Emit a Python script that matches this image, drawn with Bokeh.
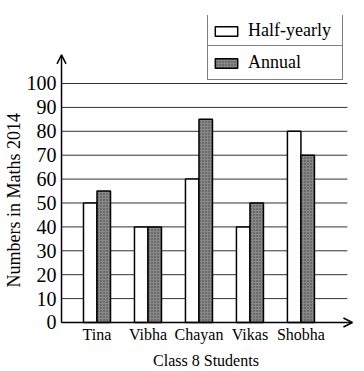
from bokeh.plotting import figure
from bokeh.models import (Range1d, FixedTicker, Legend, LegendItem, Arrow, OpenHead, Title)
from bokeh.embed import file_html
from bokeh.resources import INLINE

students = ["Tina", "Vibha", "Chayan", "Vikas", "Shobha"]
half_yearly = [50, 40, 60, 40, 80]
annual = [55, 40, 85, 50, 70]
y_ticks = [0, 10, 20, 30, 40, 50, 60, 70, 80, 90, 100]
x_title = "Class 8 Students"
y_title = "Numbers in Maths 2014"

FONT = "Liberation Serif"
pos = list(range(1, len(students) + 1))
bw = 0.265
AX = 0.304          # x position of the y axis
X_END = 6.01        # tip of the x-axis arrow
GRID_END = 5.91
Y_ARROW = 112

p = figure(width=364, height=371, output_backend="svg", toolbar_location=None,
           x_range=Range1d(0.186, 6.09), y_range=Range1d(-2.93, 128.45),
           min_border_left=55, min_border_right=8, min_border_top=15, min_border_bottom=42)
p.outline_line_color = None
p.background_fill_color = "white"

# grid lines from the axis to the right
p.segment(x0=[AX] * len(y_ticks), y0=y_ticks, x1=[GRID_END] * len(y_ticks), y1=y_ticks,
          line_color="#333333", line_width=1)

r1 = p.vbar(x=[x - bw / 2 for x in pos], top=half_yearly, width=bw,
            fill_color="white", line_color="black", line_width=1.5)
r2 = p.vbar(x=[x + bw / 2 for x in pos], top=annual, width=bw,
            fill_color="#888888", line_color="black", line_width=1.5,
            hatch_pattern="dot", hatch_color="#404040", hatch_scale=3, hatch_weight=1)

# axes
p.xaxis.ticker = FixedTicker(ticks=pos)
p.xaxis.major_label_overrides = {i: s for i, s in zip(pos, students)}
p.xaxis.axis_line_color = None
p.xaxis.major_tick_line_color = None
p.xaxis.minor_tick_line_color = None
p.xaxis.major_tick_out = 0
p.xaxis.major_tick_in = 0
p.xaxis.minor_tick_out = 0
p.xaxis.major_label_text_font = FONT
p.xaxis.major_label_text_font_size = "16px"
p.xaxis.major_label_text_color = "black"
p.xaxis.major_label_standoff = -4
p.xaxis.axis_label = x_title
p.xaxis.axis_label_text_font = FONT
p.xaxis.axis_label_text_font_size = "16px"
p.xaxis.axis_label_text_font_style = "normal"
p.xaxis.axis_label_text_color = "black"
p.xaxis.axis_label_standoff = 6

p.yaxis.ticker = FixedTicker(ticks=y_ticks)
p.yaxis.axis_line_color = None
p.yaxis.major_tick_line_color = None
p.yaxis.minor_tick_line_color = None
p.yaxis.major_tick_out = 0
p.yaxis.major_tick_in = 0
p.yaxis.minor_tick_out = 0
p.yaxis.major_label_text_font = FONT
p.yaxis.major_label_text_font_size = "20px"
p.yaxis.major_label_text_color = "black"
p.yaxis.major_label_standoff = -1

p.add_layout(Title(text=y_title, align="left", offset=42, standoff=0,
                   text_font=FONT, text_font_size="18px", text_font_style="normal",
                   text_color="black"), "left")

p.xgrid.visible = False
p.ygrid.visible = False

# axis arrows
p.add_layout(Arrow(x_start=AX, y_start=0, x_end=X_END, y_end=0,
                   line_color="black", line_width=1.5,
                   end=OpenHead(size=9, line_color="black", line_width=1.5)))
p.add_layout(Arrow(x_start=AX, y_start=0, x_end=AX, y_end=Y_ARROW,
                   line_color="black", line_width=1.5,
                   end=OpenHead(size=9, line_color="black", line_width=1.5)))

def make_legend(label, renderer, loc):
    lg = Legend(items=[LegendItem(label=label, renderers=[renderer])], location=loc,
                orientation="vertical", border_line_color="black", border_line_width=1.5,
                background_fill_color="white", background_fill_alpha=1,
                label_text_font=FONT, label_text_font_size="18px", label_text_color="black",
                glyph_width=28, glyph_height=12, label_width=90, label_height=25,
                label_standoff=8, padding=4, margin=0, spacing=0)
    p.add_layout(lg, "center")

make_legend("Half-yearly", r1, (152, 281))
make_legend("Annual", r2, (152, 249))

open("out.html", "w").write(file_html(p, INLINE))
